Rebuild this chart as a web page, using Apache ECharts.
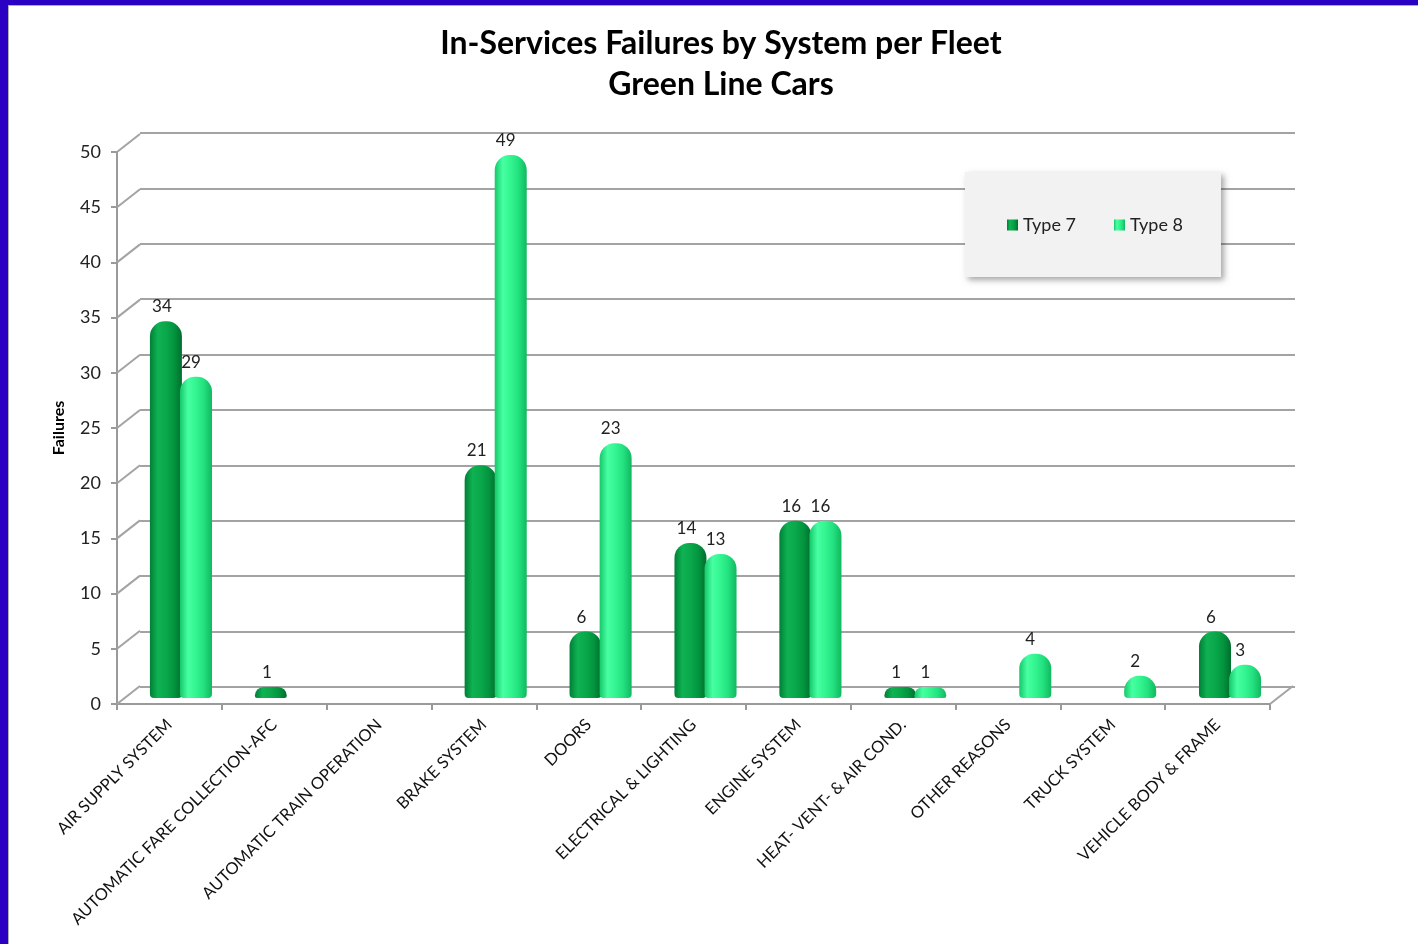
<!DOCTYPE html>
<html><head><meta charset="utf-8">
<script src="https://cdn.jsdelivr.net/npm/echarts@6/dist/echarts.min.js"></script>
<style>html,body{margin:0;padding:0;background:#fff;}#c{width:1418px;height:944px;}</style>
</head><body><div id="c"></div>
<script>
const categories = ["AIR SUPPLY SYSTEM","AUTOMATIC FARE COLLECTION-AFC","AUTOMATIC TRAIN OPERATION","BRAKE SYSTEM","DOORS","ELECTRICAL & LIGHTING","ENGINE SYSTEM","HEAT- VENT- & AIR COND.","OTHER REASONS","TRUCK SYSTEM","VEHICLE BODY & FRAME"];
const type7 = [34, 1, null, 21, 6, 14, 16, 1, null, null, 6];
const type8 = [29, null, null, 49, 23, 13, 16, 1, 4, 2, 3];
const yTicks = [0,5,10,15,20,25,30,35,40,45,50];
const seriesNames = ["Type 7","Type 8"];

const FONT = "Lato, 'Open Sans', sans-serif";
const DX = 23, DY = -18;
const chart = echarts.init(document.getElementById('c'));

function grad(stops){
  return new echarts.graphic.LinearGradient(0,0,1,0, stops.map((c,i)=>({offset:i/(stops.length-1), color:c})));
}
const c7 = grad(['#007f36','#0fb253','#0aa84b','#03953f','#006e2e']);
const c8 = grad(['#16c869','#46ffa2','#33f590','#22e07e','#12b85f']);

const gridBack = {left:140, right:123, top:133, bottom:257};
const gridFront = {left:117, right:148, top:152, bottom:240};
const gridMid = {left:128.5, right:135.5, top:144, bottom:246};

const option = {
  animation:false,
  backgroundColor:'#fff',
  title:{
    text:'In-Services Failures by System per Fleet\nGreen Line Cars',
    left:716, top:18, textAlign:'center',
    textStyle:{fontFamily:FONT, fontWeight:'bold', fontSize:32, lineHeight:41, color:'#000'}
  },
  legend:{
    data:seriesNames,
    left:965, top:172,
    padding:[44,38,43,42],
    itemGap:38, itemWidth:11, itemHeight:11,
    backgroundColor:'#f2f2f2',
    shadowColor:'rgba(0,0,0,0.35)', shadowBlur:6, shadowOffsetX:3, shadowOffsetY:3,
    textStyle:{fontFamily:FONT, fontSize:18, color:'#222'},
    icon:'rect'
  },
  grid:[
    Object.assign({}, gridBack),
    Object.assign({}, gridFront),
    Object.assign({}, gridMid)
  ],
  xAxis:[
    {gridIndex:0, type:'category', data:categories, axisLine:{show:false}, axisTick:{show:false}, axisLabel:{show:false}},
    {gridIndex:1, type:'category', data:categories,
     axisLine:{show:true, lineStyle:{color:'#9a9a9a', width:2}},
     axisTick:{show:true, length:6, lineStyle:{color:'#9a9a9a', width:2}},
     axisLabel:{interval:0, rotate:45, fontFamily:FONT, fontSize:16.5, color:'#111', margin:18}},
    {gridIndex:2, type:'category', data:categories, axisLine:{show:false}, axisTick:{show:false}, axisLabel:{show:false}}
  ],
  yAxis:[
    {gridIndex:0, type:'value', min:0, max:50, interval:5, axisLine:{show:false}, axisTick:{show:false}, axisLabel:{show:false},
     splitLine:{show:true, lineStyle:{color:'#a3a3a3', width:2}}},
    {gridIndex:1, type:'value', min:0, max:50, interval:5,
     name:'Failures', nameLocation:'middle', nameGap:50, nameRotate:90,
     nameTextStyle:{fontFamily:FONT, fontWeight:'bold', fontSize:16, color:'#000'},
     axisLine:{show:true, lineStyle:{color:'#9a9a9a', width:2}},
     axisTick:{show:true, length:6, lineStyle:{color:'#9a9a9a', width:2}},
     axisLabel:{fontFamily:FONT, fontSize:18, color:'#222', margin:16},
     splitLine:{show:false}},
    {gridIndex:2, type:'value', min:0, max:50, interval:5, show:false, splitLine:{show:false}}
  ],
  series:[
    {
      type:'custom', xAxisIndex:1, yAxisIndex:1, silent:true, z:1,
      data:yTicks.map(v=>[0,v]),
      renderItem:function(params, api){
        const cs = params.coordSys;
        const y = api.coord([0, api.value(1)])[1];
        const x = cs.x;
        const children = [{type:'line', shape:{x1:x, y1:y, x2:x+DX, y2:y+DY}, style:{stroke:'#a3a3a3', lineWidth:2}}];
        if (api.value(1) === 0) {
          children.push({type:'line', shape:{x1:x+cs.width, y1:y, x2:x+cs.width+DX, y2:y+DY}, style:{stroke:'#a3a3a3', lineWidth:2}});
        }
        return {type:'group', children:children};
      }
    },
    {
      name:seriesNames[0], type:'bar', xAxisIndex:2, yAxisIndex:2, data:type7, z:3,
      barWidth:32, barGap:'-6%',
      itemStyle:{color:c7, borderRadius:[15,15,4,4]},
      label:{show:true, position:'top', distance:6, offset:[-4,0], fontFamily:FONT, fontSize:17, color:'#222'}
    },
    {
      name:seriesNames[1], type:'bar', xAxisIndex:2, yAxisIndex:2, data:type8, z:3,
      barWidth:32, barGap:'-6%',
      itemStyle:{color:c8, borderRadius:[15,15,4,4]},
      label:{show:true, position:'top', distance:6, offset:[-5,0], fontFamily:FONT, fontSize:17, color:'#222'}
    }
  ],
  graphic:[
    {type:'rect', left:0, top:0, shape:{width:1418, height:5}, style:{fill:'#2a00c2'}, z:100},
    {type:'rect', left:0, top:5, shape:{width:1418, height:1}, style:{fill:'#b0b0b0'}, z:100},
    {type:'rect', left:0, top:0, shape:{width:8, height:944}, style:{fill:'#2a00c2'}, z:100},
    {type:'rect', left:8, top:6, shape:{width:1, height:938}, style:{fill:'#b0b0b0'}, z:100}
  ]
};
chart.setOption(option);
</script></body></html>
